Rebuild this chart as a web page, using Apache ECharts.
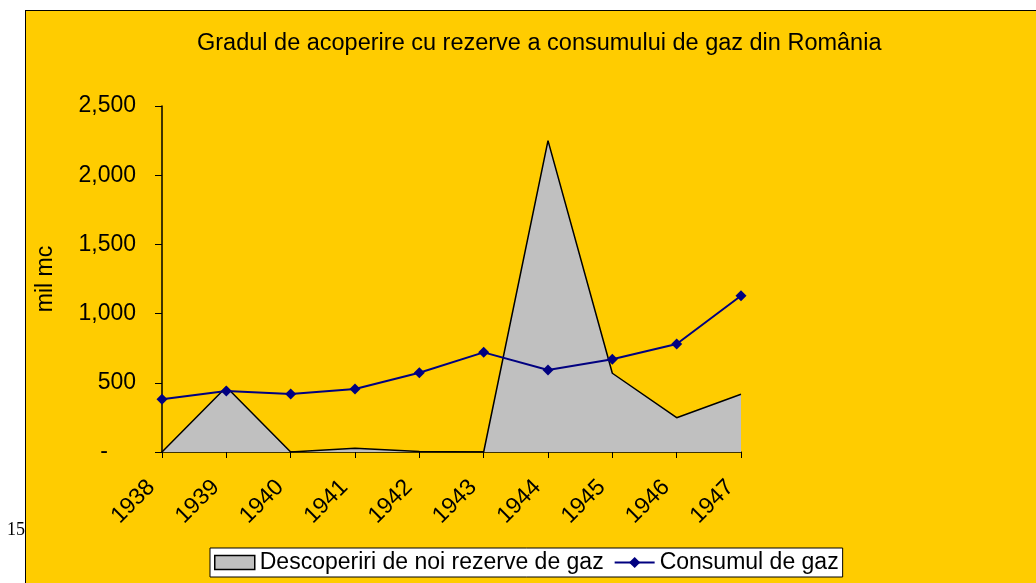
<!DOCTYPE html>
<html>
<head>
<meta charset="utf-8">
<script src="https://cdn.jsdelivr.net/npm/echarts@6/dist/echarts.min.js"></script>
<style>
  html, body { margin: 0; padding: 0; background: #ffffff; }
  #panel { position: absolute; left: 25px; top: 10px; width: 1011px; height: 573px; background: #FFCC00; border-left: 1px solid #000; border-top: 1px solid #000; box-sizing: border-box; }
  #chart { position: absolute; left: 0; top: 0; width: 1036px; height: 583px; }
</style>
</head>
<body>
<div id="panel"></div>
<div id="chart"></div>
<script>
// ani
var years = ['1938', '1939', '1940', '1941', '1942', '1943', '1944', '1945', '1946', '1947']
// descoperiri de noi rezerve (mil mc)
var descoperiri = [0, 470, 0, 27, 3, 0, 2250, 569, 248, 417]
// consumul de gaz (mil mc)
var consum = [381, 441, 419, 455, 573, 720, 592, 670, 780, 1129]

var font = 'Liberation Sans, Arial, sans-serif'
var chart = echarts.init(document.getElementById('chart'))
chart.setOption({
  backgroundColor: 'transparent',
  animation: false,
  textStyle: { fontFamily: font, color: '#000' },
  title: {
    text: 'Gradul de acoperire cu rezerve a consumului de gaz din România',
    left: 192,
    top: 27,
    textStyle: { fontSize: 23.5, fontWeight: 'normal', color: '#000', fontFamily: font }
  },
  graphic: [
    {
      type: 'text',
      left: 7,
      top: 521,
      style: { text: '15', fontSize: 18, fontFamily: 'Liberation Serif, Times New Roman, serif', fill: '#000' }
    }
  ],
  legend: {
    left: 210,
    top: 548,
    padding: [3, 4, 3, 4],
    itemGap: 10,
    itemWidth: 40,
    itemHeight: 14,
    backgroundColor: '#ffffff',
    borderColor: '#000',
    borderWidth: 1,
    textStyle: { fontSize: 23, color: '#000', fontFamily: font },
    data: [
      { name: 'Descoperiri de noi rezerve de gaz', icon: 'rect', itemStyle: { color: '#C0C0C0', borderColor: '#000', borderWidth: 1.5 } },
      { name: 'Consumul de gaz' }
    ]
  },
  grid: { left: 162, right: 295, top: 106, bottom: 131 },
  xAxis: {
    type: 'category',
    data: years,
    boundaryGap: false,
    axisLine: { lineStyle: { color: '#000', width: 1.5 } },
    axisTick: { show: true, length: 6, lineStyle: { color: '#000' } },
    axisLabel: { rotate: 45, fontSize: 23, color: '#000', margin: 21, padding: [0, 15, 0, 0] }
  },
  yAxis: {
    type: 'value',
    min: 0,
    max: 2500,
    interval: 500,
    name: 'mil mc',
    nameLocation: 'middle',
    nameGap: 105,
    nameRotate: 90,
    nameTextStyle: { fontSize: 23, color: '#000' },
    splitLine: { show: false },
    axisLine: { show: true, lineStyle: { color: '#000', width: 1.5 } },
    axisTick: { show: true, length: 7, lineStyle: { color: '#000' } },
    axisLabel: {
      fontSize: 23,
      color: '#000',
      margin: 26,
      formatter: function (v) {
        if (v === 0) return '{d|-}'
        return v.toString().replace(/\B(?=(\d{3})+(?!\d))/g, ',')
      },
      rich: {
        d: { fontSize: 23, color: '#000', padding: [0, 28, 0, 0] }
      }
    }
  },
  series: [
    {
      name: 'Descoperiri de noi rezerve de gaz',
      type: 'line',
      data: descoperiri,
      symbol: 'none',
      lineStyle: { color: '#000', width: 1.5 },
      itemStyle: { color: '#C0C0C0', borderColor: '#000' },
      areaStyle: { color: '#C0C0C0', opacity: 1 },
      z: 1
    },
    {
      name: 'Consumul de gaz',
      type: 'line',
      data: consum,
      symbol: 'diamond',
      symbolSize: 11,
      lineStyle: { color: '#000080', width: 2 },
      itemStyle: { color: '#000080' },
      z: 3
    }
  ]
})
</script>
</body>
</html>
